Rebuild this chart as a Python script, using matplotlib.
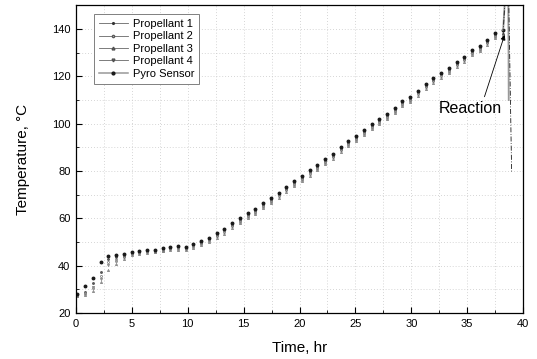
import matplotlib
matplotlib.use('Agg')
import matplotlib.pyplot as plt
from matplotlib.lines import Line2D
from matplotlib.ticker import MultipleLocator

plt.rcParams['font.family'] = ['Liberation Sans', 'DejaVu Sans']

# time of each reading, hr
time_hr = [0.12, 0.80, 1.49, 2.21, 2.89, 3.58, 4.29, 4.98, 5.66, 6.38, 7.07, 7.75,
           8.41, 9.15, 9.84, 10.49, 11.21, 11.92, 12.58, 13.26, 13.98, 14.67, 15.36,
           16.04, 16.75, 17.44, 18.13, 18.78, 19.50, 20.21, 20.90, 21.58, 22.30, 22.99,
           23.68, 24.36, 25.07, 25.76, 26.45, 27.13, 27.84, 28.53, 29.19, 29.90, 30.59,
           31.28, 31.96, 32.65, 33.36, 34.05, 34.73, 35.42, 36.14, 36.82, 37.50, 38.22]

prop1 = [27.4, 29.0, 32.8, 37.5, 43.0, 43.5, 44.2, 45.3, 45.8, 46.1, 46.4, 46.9, 47.4, 47.7,
         47.4, 48.6, 49.8, 51.3, 53.1, 54.9, 57.3, 59.3, 61.4, 63.1, 65.6, 67.7, 70.1, 72.6,
         74.9, 77.1, 79.4, 81.7, 84.3, 86.5, 89.4, 91.8, 94.0, 96.4, 98.9, 101.0, 103.1, 105.8,
         108.6, 110.4, 113.2, 116.1, 118.6, 120.8, 122.7, 125.4, 127.5, 130.3, 132.0, 134.6,
         137.5, 138.0]
prop2 = [27.0, 28.2, 30.6, 35.8, 41.5, 42.2, 43.6, 44.8, 45.3, 45.6, 45.9, 46.4, 46.9, 47.2,
         46.9, 48.0, 49.2, 50.6, 52.4, 54.2, 56.6, 58.6, 60.7, 62.4, 64.9, 67.0, 69.4, 71.9,
         74.2, 76.4, 78.7, 81.0, 83.6, 85.8, 88.7, 91.1, 93.3, 95.7, 98.2, 100.3, 102.4, 105.1,
         107.9, 109.7, 112.5, 115.4, 117.9, 120.1, 122.0, 124.7, 126.8, 129.6, 131.3, 133.9,
         136.7, 137.0]
prop3 = [27.2, 27.6, 29.5, 33.2, 38.0, 40.8, 43.0, 44.5, 45.0, 45.3, 45.6, 46.1, 46.5, 46.8,
         46.5, 47.5, 48.7, 50.0, 51.8, 53.6, 56.0, 58.0, 60.1, 61.8, 64.3, 66.4, 68.8, 71.3,
         73.6, 75.8, 78.1, 80.4, 83.0, 85.2, 88.1, 90.5, 92.7, 95.1, 97.6, 99.7, 101.8, 104.5,
         107.3, 109.1, 111.9, 114.8, 117.3, 119.5, 121.4, 124.1, 126.2, 129.0, 130.7, 133.3,
         136.2, 136.0]
prop4 = [27.6, 28.6, 31.0, 34.5, 40.2, 42.6, 43.8, 45.0, 45.5, 45.9, 46.2, 46.7, 47.1, 47.4,
         47.1, 48.3, 49.5, 50.9, 52.7, 54.5, 56.9, 58.9, 61.0, 62.7, 65.2, 67.3, 69.7, 72.2,
         74.5, 76.7, 79.0, 81.3, 83.9, 86.1, 89.0, 91.4, 93.6, 96.0, 98.5, 100.6, 102.7, 105.4,
         108.2, 110.0, 112.8, 115.7, 118.2, 120.4, 122.3, 125.0, 127.1, 129.9, 131.6, 134.2,
         137.0, 136.5]
pyro = [28.0, 31.4, 34.7, 41.4, 44.3, 44.6, 44.8, 45.9, 46.2, 46.5, 46.8, 47.4, 47.9, 48.2,
        47.9, 49.1, 50.3, 51.9, 53.7, 55.6, 58.0, 60.0, 62.1, 63.8, 66.3, 68.5, 70.9, 73.4,
        75.8, 78.0, 80.3, 82.6, 85.2, 87.4, 90.3, 92.7, 94.9, 97.3, 99.8, 101.9, 104.0, 106.7,
        109.4, 111.2, 114.0, 116.9, 119.4, 121.6, 123.5, 126.2, 128.3, 131.1, 132.8, 135.4,
        138.4, 139.5]

# reaction spike at the end of the run
spike_t_pyro = [38.22, 38.66, 38.72]
spike_pyro = [139.5, 175.0, 110.0]
spike_t_p1 = [38.22, 38.64, 38.98]
spike_p1 = [138.0, 175.0, 79.5]

labels = ['Propellant 1', 'Propellant 2', 'Propellant 3', 'Propellant 4', 'Pyro Sensor']

fig = plt.figure(figsize=(5.37, 3.59), dpi=100)
ax = fig.add_axes([0.1415, 0.128, 0.8325, 0.857])

ax.plot(time_hr, prop1, linestyle='none', marker='.', markersize=2.2, color='0.35')
ax.plot(time_hr, prop2, linestyle='none', marker='o', markersize=1.5, color='0.45', mfc='white', mew=0.5)
ax.plot(time_hr, prop3, linestyle='none', marker='^', markersize=1.5, color='0.4', mfc='white', mew=0.5)
ax.plot(time_hr, prop4, linestyle='none', marker='v', markersize=1.5, color='0.4', mfc='white', mew=0.5)
ax.plot(time_hr, pyro, linestyle='none', marker='o', markersize=1.8, color='0.1')

ax.plot(spike_t_pyro, spike_pyro, color='0.6', lw=1.3)
ax.plot(spike_t_p1, spike_p1, color='0.1', lw=0.6, linestyle=(0, (6, 2, 1, 2)))

ax.annotate('Reaction', xy=(38.35, 137.5), xytext=(35.3, 106.5), ha='center', va='center',
            fontsize=11.5,
            arrowprops=dict(arrowstyle='-|>', color='black', lw=0.6, mutation_scale=7,
                            relpos=(0.7, 1.0), shrinkA=1, shrinkB=0))

ax.set_xlim(0, 40)
ax.set_ylim(20, 150)
ax.xaxis.set_major_locator(MultipleLocator(5))
ax.xaxis.set_minor_locator(MultipleLocator(2.5))
ax.yaxis.set_major_locator(MultipleLocator(20))
ax.yaxis.set_minor_locator(MultipleLocator(10))
ax.tick_params(which='major', direction='in', length=4, width=0.8, labelsize=8, pad=4,
               top=False, right=False)
ax.tick_params(which='minor', direction='in', length=2.2, width=0.6, top=False, right=False)
ax.grid(True, which='both', linestyle=(0, (1, 2.5)), color='#c8c8c8', linewidth=0.6)
for s in ax.spines.values():
    s.set_linewidth(0.9)

ax.set_xlabel('Time, hr', fontsize=11, labelpad=9)
ax.set_ylabel('Temperature, °C', fontsize=11, labelpad=16)

handles = [
    Line2D([], [], color='0.4', lw=0.6, marker='.', markersize=2.5, mfc='0.2', mec='0.2'),
    Line2D([], [], color='0.4', lw=0.6, marker='o', markersize=1.6, mfc='white', mec='0.35'),
    Line2D([], [], color='0.4', lw=0.6, marker='^', markersize=2, mfc='white', mec='0.3'),
    Line2D([], [], color='0.4', lw=0.6, marker='v', markersize=2, mfc='white', mec='0.3'),
    Line2D([], [], color='0.6', lw=1.1, marker='o', markersize=2, mfc='0.1', mec='0.1'),
]
leg = ax.legend(handles, labels, loc='upper left', bbox_to_anchor=(0.04, 0.972),
                borderaxespad=0, fontsize=8, fancybox=False, framealpha=1,
                edgecolor='0.5', numpoints=1, handlelength=2.6, handletextpad=0.45,
                labelspacing=0.22, borderpad=0.45)
leg.get_frame().set_linewidth(0.7)

fig.savefig('out.png', dpi=100)
